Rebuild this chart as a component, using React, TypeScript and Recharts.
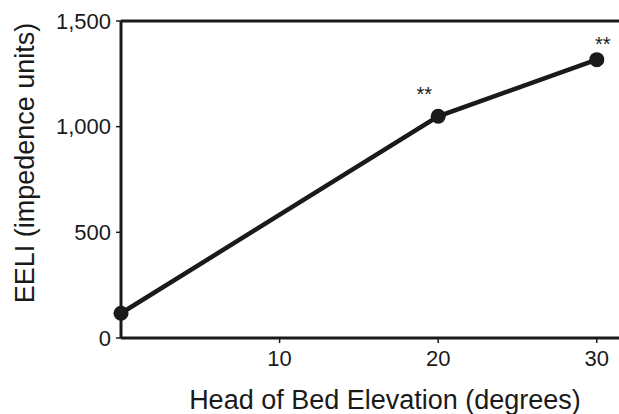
import { LineChart, Line, XAxis, YAxis, ReferenceLine, LabelList } from "recharts";

// Head of bed elevation (degrees) vs EELI
const elevations = [0, 20, 30];
const eeli = [117, 1049, 1317];
const significance = ["", "**", "**"];

const yTicks = [0, 500, 1000, 1500];
const xTicks = [10, 20, 30];

const ink = "#1a1a1a";
const font = "'Liberation Sans', Arial, Helvetica, sans-serif";

// asterisks were placed by hand in the original, nudge each one
const starNudge = [
  [0, 0],
  [-14, -15],
  [6, -9],
];

const data = elevations.map((x, i) => ({ x, eeli: eeli[i], sig: significance[i] }));

function Stars(props: any) {
  const { x, y, index, value } = props;
  if (!value) return null;
  const [dx, dy] = starNudge[index] || [0, -12];
  return (
    <text x={x + dx} y={y + dy} textAnchor="middle" fontSize={20} fill={ink} fontFamily={font}>
      {value}
    </text>
  );
}

export default function App() {
  return (
    <div style={{ width: 619, height: 414, background: "#fff" }}>
      <style>{`body{margin:0}`}</style>
      <LineChart width={619} height={414} data={data} margin={{ top: 21, right: 0, bottom: 0, left: 0 }}>
        <XAxis
          type="number"
          dataKey="x"
          domain={[0, 31.4]}
          ticks={xTicks}
          height={76}
          tickSize={5}
          tickMargin={7}
          axisLine={{ stroke: ink, strokeWidth: 3 }}
          tickLine={{ stroke: ink, strokeWidth: 1.5 }}
          tick={{ fill: ink, fontSize: 22, fontFamily: font }}
          label={{
            value: "Head of Bed Elevation (degrees)",
            position: "insideBottom",
            offset: 5,
            dx: 15,
            fill: ink,
            fontSize: 27,
            fontFamily: font,
          }}
        />
        <YAxis
          type="number"
          domain={[0, 1500]}
          ticks={yTicks}
          width={121}
          tickSize={5}
          tickMargin={5}
          tickFormatter={(v: number) => v.toLocaleString("en-US")}
          axisLine={{ stroke: ink, strokeWidth: 3 }}
          tickLine={{ stroke: ink, strokeWidth: 1.5 }}
          tick={{ fill: ink, fontSize: 22, fontFamily: font }}
          label={{
            content: () => (
              <text
                x={34}
                y={163}
                transform="rotate(-90, 34, 163)"
                textAnchor="middle"
                fill={ink}
                fontSize={27}
                fontFamily={font}
              >
                EELI (impedence units)
              </text>
            ),
          }}
        />
        <ReferenceLine y={1500} stroke={ink} strokeWidth={3} />
        <Line
          type="linear"
          dataKey="eeli"
          stroke={ink}
          strokeWidth={4.5}
          dot={{ r: 7.5, fill: ink, stroke: ink, strokeWidth: 0 }}
          isAnimationActive={false}
        >
          <LabelList dataKey="sig" content={Stars} />
        </Line>
      </LineChart>
    </div>
  );
}
